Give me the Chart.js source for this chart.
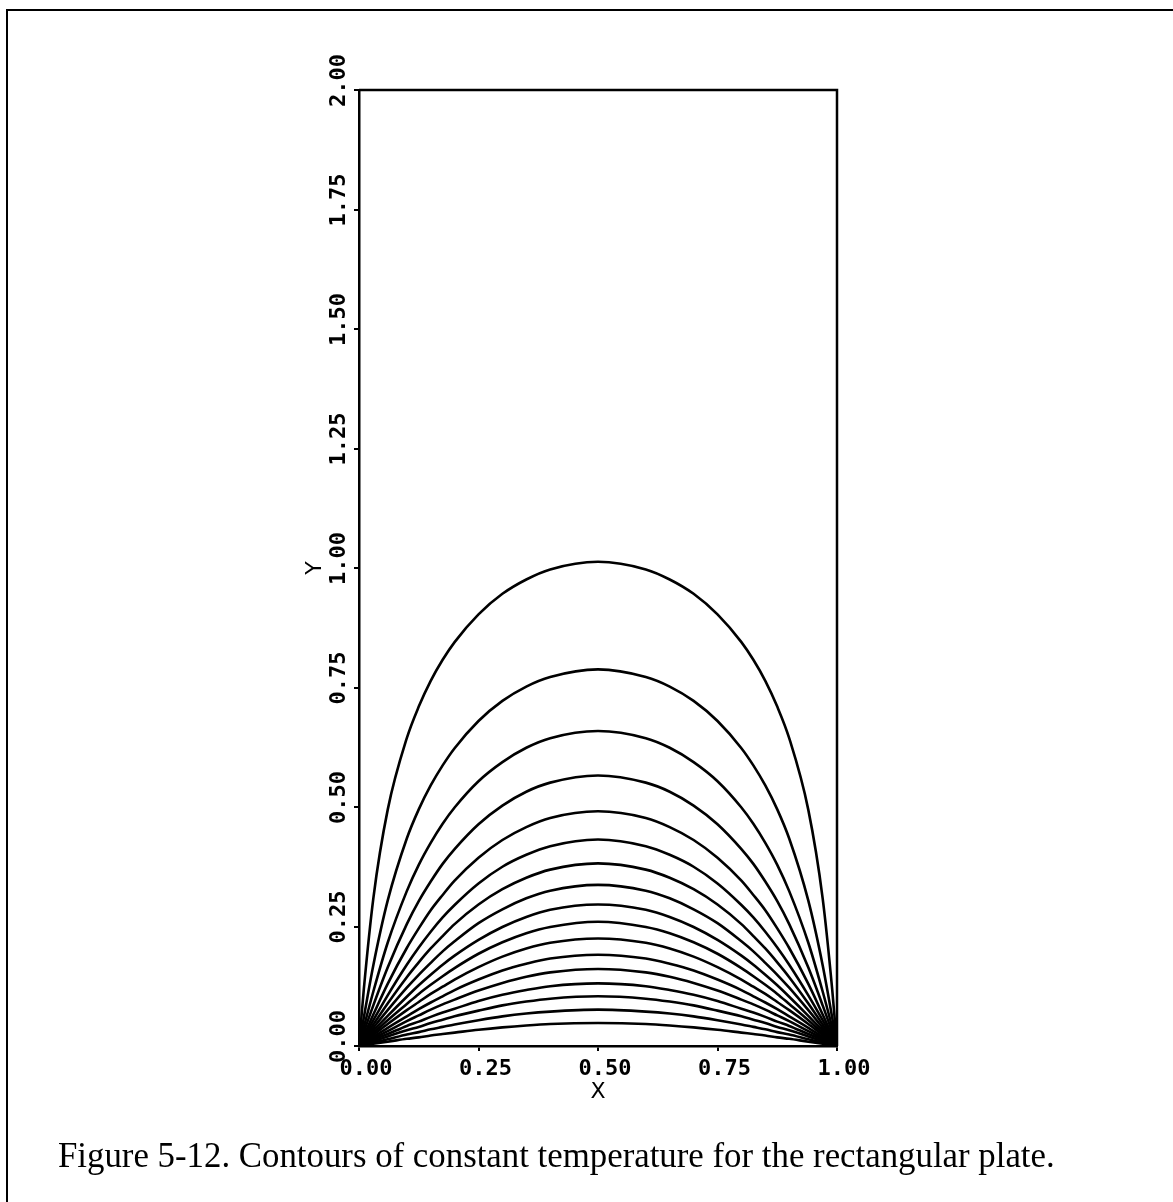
<!DOCTYPE html>
<html>
<head>
<meta charset="utf-8">
<script src="https://cdn.jsdelivr.net/npm/chart.js@4.4.1/dist/chart.umd.min.js"></script>
<style>
  html, body { margin: 0; padding: 0; background: #fff; }
  #wrap { position: relative; width: 1173px; height: 1202px; overflow: hidden; background: #fff; }
  #frame { position: absolute; left: 6px; top: 9px; width: 1300px; height: 1300px;
           border-left: 2px solid #000; border-top: 2px solid #000; }
  #c { position: absolute; left: 0; top: 0; }
  #cap { position: absolute; left: 58px; top: 1136px; white-space: nowrap;
         font-family: 'Liberation Serif', 'DejaVu Serif', serif; font-size: 29px; color: #000; }
</style>
</head>
<body>
<div id="wrap">
  <div id="frame"></div>
  <canvas id="c" width="1173" height="1202"></canvas>
  <div id="cap"><span id="capText">Figure 5-12. Contours of constant temperature for the rectangular plate.</span></div>
</div>
<script>
// ---- data ----
const xGrid = [0, 0.01, 0.03, 0.06, 0.10, 0.125, 0.15, 0.175, 0.20, 0.25, 0.30, 0.35, 0.40, 0.50,
               0.60, 0.65, 0.70, 0.75, 0.80, 0.825, 0.85, 0.875, 0.90, 0.94, 0.97, 0.99, 1];

const contour01 = [0, 0.118, 0.309, 0.494, 0.644, 0.710, 0.764, 0.808, 0.845, 0.903, 0.946, 0.976, 0.997, 1.013, 0.997, 0.976, 0.946, 0.903, 0.845, 0.808, 0.764, 0.710, 0.644, 0.494, 0.309, 0.118, 0];
const contour02 = [0, 0.059, 0.169, 0.304, 0.434, 0.495, 0.545, 0.587, 0.623, 0.680, 0.722, 0.752, 0.772, 0.788, 0.772, 0.752, 0.722, 0.680, 0.623, 0.587, 0.545, 0.495, 0.434, 0.304, 0.169, 0.059, 0];
const contour03 = [0, 0.039, 0.114, 0.216, 0.324, 0.379, 0.425, 0.465, 0.499, 0.554, 0.594, 0.624, 0.644, 0.659, 0.644, 0.624, 0.594, 0.554, 0.499, 0.465, 0.425, 0.379, 0.324, 0.216, 0.114, 0.039, 0];
const contour04 = [0, 0.029, 0.085, 0.164, 0.255, 0.303, 0.344, 0.381, 0.412, 0.464, 0.503, 0.532, 0.551, 0.566, 0.551, 0.532, 0.503, 0.464, 0.412, 0.381, 0.344, 0.303, 0.255, 0.164, 0.085, 0.029, 0];
const contour05 = [0, 0.022, 0.066, 0.130, 0.205, 0.246, 0.284, 0.316, 0.346, 0.394, 0.431, 0.458, 0.477, 0.491, 0.477, 0.458, 0.431, 0.394, 0.346, 0.316, 0.284, 0.246, 0.205, 0.130, 0.066, 0.022, 0];
const contour06 = [0, 0.018, 0.054, 0.106, 0.170, 0.206, 0.239, 0.269, 0.295, 0.340, 0.375, 0.400, 0.418, 0.432, 0.418, 0.400, 0.375, 0.340, 0.295, 0.269, 0.239, 0.206, 0.170, 0.106, 0.054, 0.018, 0];
const contour07 = [0, 0.015, 0.045, 0.089, 0.144, 0.175, 0.204, 0.230, 0.255, 0.296, 0.328, 0.352, 0.369, 0.382, 0.369, 0.352, 0.328, 0.296, 0.255, 0.230, 0.204, 0.175, 0.144, 0.089, 0.045, 0.015, 0];
const contour08 = [0, 0.013, 0.038, 0.075, 0.122, 0.149, 0.174, 0.198, 0.219, 0.257, 0.286, 0.309, 0.325, 0.337, 0.325, 0.309, 0.286, 0.257, 0.219, 0.198, 0.174, 0.149, 0.122, 0.075, 0.038, 0.013, 0];
const contour09 = [0, 0.011, 0.032, 0.063, 0.103, 0.127, 0.149, 0.170, 0.189, 0.222, 0.249, 0.270, 0.285, 0.296, 0.285, 0.270, 0.249, 0.222, 0.189, 0.170, 0.149, 0.127, 0.103, 0.063, 0.032, 0.011, 0];
const contour10 = [0, 0.009, 0.027, 0.054, 0.088, 0.109, 0.128, 0.146, 0.163, 0.193, 0.217, 0.236, 0.249, 0.260, 0.249, 0.236, 0.217, 0.193, 0.163, 0.146, 0.128, 0.109, 0.088, 0.054, 0.027, 0.009, 0];
const contour11 = [0, 0.008, 0.023, 0.046, 0.075, 0.092, 0.109, 0.124, 0.139, 0.165, 0.187, 0.204, 0.216, 0.225, 0.216, 0.204, 0.187, 0.165, 0.139, 0.124, 0.109, 0.092, 0.075, 0.046, 0.023, 0.008, 0];
const contour12 = [0, 0.006, 0.019, 0.038, 0.062, 0.077, 0.091, 0.104, 0.117, 0.139, 0.158, 0.172, 0.183, 0.191, 0.183, 0.172, 0.158, 0.139, 0.117, 0.104, 0.091, 0.077, 0.062, 0.038, 0.019, 0.006, 0];
const contour13 = [0, 0.005, 0.016, 0.031, 0.052, 0.064, 0.076, 0.087, 0.097, 0.116, 0.132, 0.145, 0.154, 0.161, 0.154, 0.145, 0.132, 0.116, 0.097, 0.087, 0.076, 0.064, 0.052, 0.031, 0.016, 0.005, 0];
const contour14 = [0, 0.004, 0.013, 0.025, 0.042, 0.051, 0.061, 0.070, 0.078, 0.094, 0.107, 0.117, 0.125, 0.131, 0.125, 0.117, 0.107, 0.094, 0.078, 0.070, 0.061, 0.051, 0.042, 0.025, 0.013, 0.004, 0];
const contour15 = [0, 0.003, 0.010, 0.020, 0.033, 0.040, 0.048, 0.055, 0.062, 0.074, 0.085, 0.093, 0.099, 0.104, 0.099, 0.093, 0.085, 0.074, 0.062, 0.055, 0.048, 0.040, 0.033, 0.020, 0.010, 0.003, 0];
const contour16 = [0, 0.002, 0.007, 0.014, 0.024, 0.029, 0.035, 0.040, 0.045, 0.054, 0.062, 0.068, 0.072, 0.076, 0.072, 0.068, 0.062, 0.054, 0.045, 0.040, 0.035, 0.029, 0.024, 0.014, 0.007, 0.002, 0];
const contour17 = [0, 0.002, 0.005, 0.009, 0.015, 0.018, 0.022, 0.025, 0.028, 0.034, 0.039, 0.043, 0.046, 0.048, 0.046, 0.043, 0.039, 0.034, 0.028, 0.025, 0.022, 0.018, 0.015, 0.009, 0.005, 0.002, 0];

const xTickLabels = ['0.00', '0.25', '0.50', '0.75', '1.00'];
const yTickLabels = ['0.00', '0.25', '0.50', '0.75', '1.00', '1.25', '1.50', '1.75', '2.00'];
const xTitle = 'X';
const yTitle = 'Y';

// ---- build chart ----
const contours = [contour01, contour02, contour03, contour04, contour05, contour06, contour07, contour08,
                  contour09, contour10, contour11, contour12, contour13, contour14, contour15, contour16, contour17];

const datasets = contours.map(c => ({
  data: xGrid.map((x, i) => ({ x: x, y: c[i] })),
  showLine: true,
  borderColor: '#000',
  borderWidth: 2.6,
  pointRadius: 0,
  pointHoverRadius: 0,
  cubicInterpolationMode: 'monotone',
  fill: false
}));

const tickFont = { family: 'DejaVu Sans Mono', size: 22, weight: 'bold' };

const framePlugin = {
  id: 'frame',
  afterDraw(chart) {
    const { ctx, chartArea: a } = chart;
    ctx.save();
    ctx.strokeStyle = '#000';
    ctx.lineWidth = 2.5;
    ctx.beginPath();
    ctx.moveTo(a.left, a.top);
    ctx.lineTo(a.right, a.top);
    ctx.lineTo(a.right, a.bottom);
    ctx.stroke();
    ctx.restore();
  }
};

new Chart(document.getElementById('c'), {
  type: 'scatter',
  data: { datasets },
  options: {
    responsive: false,
    animation: false,
    devicePixelRatio: 1,
    events: [],
    layout: { padding: { left: 289, right: 336, top: 90, bottom: 86 } },
    plugins: { legend: { display: false }, tooltip: { enabled: false }, title: { display: false } },
    scales: {
      x: {
        type: 'linear', min: 0, max: 1, position: 'bottom',
        afterFit(s) { s.height = 70; },
        ticks: {
          stepSize: 0.25, autoSkip: false, maxRotation: 0, minRotation: 0,
          labelOffset: 7, padding: 5, color: '#000', font: tickFont,
          callback: (v) => xTickLabels[Math.round(v / 0.25)]
        },
        grid: { display: true, drawOnChartArea: false, drawTicks: true, tickLength: 5, color: '#000', lineWidth: 2 },
        border: { display: true, color: '#000', width: 2.5 },
        title: { display: true, text: xTitle, color: '#000',
                 font: { family: 'DejaVu Sans', size: 22 }, padding: { top: 0, bottom: 11 } }
      },
      y: {
        type: 'linear', min: 0, max: 2, position: 'left',
        afterFit(s) { s.width = 70; },
        ticks: {
          stepSize: 0.25, autoSkip: false, minRotation: 90, maxRotation: 90,
          labelOffset: -36, padding: 15, color: '#000', font: tickFont,
          callback: (v) => yTickLabels[Math.round(v / 0.25)]
        },
        grid: { display: true, drawOnChartArea: false, drawTicks: true, tickLength: 5, color: '#000', lineWidth: 2 },
        border: { display: true, color: '#000', width: 2.5 },
        title: { display: true, text: yTitle, color: '#000',
                 font: { family: 'DejaVu Sans', size: 22 }, padding: { top: 13, bottom: 0 } }
      }
    }
  },
  plugins: [framePlugin]
});

// fit caption to the reference width
(function () {
  const span = document.getElementById('capText');
  const w = span.getBoundingClientRect().width;
  const target = 997;
  if (w > 0) {
    document.getElementById('cap').style.fontSize = (29 * target / w).toFixed(2) + 'px';
  }
})();
</script>
</body>
</html>
